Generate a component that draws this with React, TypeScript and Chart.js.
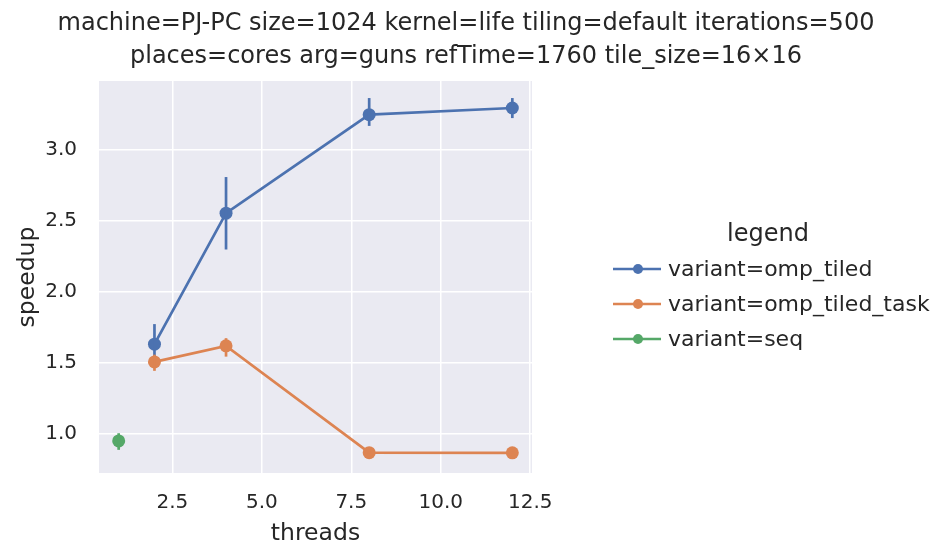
import React, { useEffect, useRef } from "react";
import { Chart, registerables } from "chart.js";

Chart.register(...registerables);

const titleLines = [
  "machine=PJ-PC size=1024 kernel=life tiling=default iterations=500",
  "places=cores arg=guns refTime=1760 tile_size=16×16",
];
const xLabel = "threads";
const yLabel = "speedup";
const legendTitle = "legend";

const seriesNames = ["variant=omp_tiled", "variant=omp_tiled_task", "variant=seq"];
const seriesColors = ["#4c72b0", "#dd8452", "#55a868"];

const tiledThreads = [2, 4, 8, 12];
const tiledSpeedup = [1.634, 2.556, 3.249, 3.296];
const tiledLow = [1.55, 2.3, 3.17, 3.225];
const tiledHigh = [1.775, 2.81, 3.366, 3.366];

const taskThreads = [2, 4, 8, 12];
const taskSpeedup = [1.509, 1.622, 0.87, 0.869];
const taskLow = [1.446, 1.546, 0.862, 0.862];
const taskHigh = [1.56, 1.676, 0.878, 0.876];

const seqThreads = [1];
const seqSpeedup = [0.953];
const seqLow = [0.89];
const seqHigh = [1.007];

const xTicks = [2.5, 5.0, 7.5, 10.0, 12.5];
const yTicks = [1.0, 1.5, 2.0, 2.5, 3.0];

const FONT = "'DejaVu Sans', sans-serif";
const TEXT = "#262626";

export default function App() {
  const ref = useRef<HTMLCanvasElement>(null);

  useEffect(() => {
    document.body.style.margin = "0";
    const canvas = ref.current!;
    const mk = (xs: number[], ys: number[]) => xs.map((x, i) => ({ x, y: ys[i] }));
    const errs = [
      { xs: tiledThreads, lo: tiledLow, hi: tiledHigh },
      { xs: taskThreads, lo: taskLow, hi: taskHigh },
      { xs: seqThreads, lo: seqLow, hi: seqHigh },
    ];

    const bgPlugin = {
      id: "bg",
      beforeDraw(chart: any) {
        const { ctx, chartArea: a } = chart;
        ctx.save();
        ctx.fillStyle = "#ffffff";
        ctx.fillRect(0, 0, chart.width, chart.height);
        ctx.fillStyle = "#eaeaf2";
        ctx.fillRect(a.left, a.top, a.right - a.left, a.bottom - a.top);
        ctx.restore();
      },
    };

    const errPlugin = {
      id: "err",
      afterDatasetsDraw(chart: any) {
        const { ctx, scales } = chart;
        ctx.save();
        errs.forEach((e, si) => {
          ctx.strokeStyle = seriesColors[si];
          ctx.lineWidth = 2.7;
          e.xs.forEach((x, i) => {
            const px = scales.x.getPixelForValue(x);
            ctx.beginPath();
            ctx.moveTo(px, scales.y.getPixelForValue(e.lo[i]));
            ctx.lineTo(px, scales.y.getPixelForValue(e.hi[i]));
            ctx.stroke();
          });
        });
        ctx.restore();
      },
    };

    const textPlugin = {
      id: "texts",
      afterDraw(chart: any) {
        const { ctx, chartArea: a } = chart;
        ctx.save();
        ctx.fillStyle = TEXT;
        ctx.textAlign = "center";
        ctx.textBaseline = "alphabetic";
        ctx.font = `24px ${FONT}`;
        ctx.fillText(titleLines[0], 466, 30);
        ctx.fillText(titleLines[1], 466, 63);
        ctx.font = `23.5px ${FONT}`;
        ctx.fillText(xLabel, (a.left + a.right) / 2, 540);
        ctx.save();
        ctx.translate(34, (a.top + a.bottom) / 2);
        ctx.rotate(-Math.PI / 2);
        ctx.fillText(yLabel, 0, 0);
        ctx.restore();
        // legend
        ctx.textBaseline = "middle";
        ctx.font = `24px ${FONT}`;
        ctx.fillText(legendTitle, 768, 235);
        ctx.font = `22px ${FONT}`;
        ctx.textAlign = "left";
        const ys = [269, 304, 339];
        seriesNames.forEach((n, i) => {
          ctx.strokeStyle = seriesColors[i];
          ctx.lineWidth = 2.5;
          ctx.beginPath();
          ctx.moveTo(613, ys[i]);
          ctx.lineTo(661, ys[i]);
          ctx.stroke();
          ctx.fillStyle = seriesColors[i];
          ctx.beginPath();
          ctx.arc(638, ys[i], 5, 0, Math.PI * 2);
          ctx.fill();
          ctx.fillStyle = TEXT;
          ctx.fillText(n, 668, ys[i] + 1);
        });
        ctx.restore();
      },
    };

    const ds = (i: number, xs: number[], ys: number[]) => ({
      label: seriesNames[i],
      data: mk(xs, ys),
      borderColor: seriesColors[i],
      backgroundColor: seriesColors[i],
      borderWidth: 2.7,
      pointRadius: 6.5,
      pointBorderWidth: 0,
      pointHoverRadius: 6.5,
      showLine: true,
      tension: 0,
    });

    const chart = new Chart(canvas, {
      type: "scatter",
      data: {
        datasets: [
          ds(0, tiledThreads, tiledSpeedup),
          ds(1, taskThreads, taskSpeedup),
          ds(2, seqThreads, seqSpeedup),
        ],
      },
      options: {
        animation: false,
        responsive: false,
        events: [],
        layout: { padding: { left: 0, top: 81, right: 401, bottom: 0 } },
        plugins: { legend: { display: false }, tooltip: { enabled: false }, title: { display: false } },
        scales: {
          x: {
            type: "linear",
            min: 0.45,
            max: 12.55,
            afterFit: (s: any) => { s.height = 75; },
            afterBuildTicks: (s: any) => { s.ticks = xTicks.map((v) => ({ value: v })); },
            grid: { color: "#ffffff", lineWidth: 1.5, drawTicks: false },
            border: { display: false },
            ticks: {
              color: TEXT,
              font: { family: FONT, size: 20 },
              padding: 18,
              maxRotation: 0,
              callback: (v: any) => Number(v).toFixed(1),
            },
          },
          y: {
            type: "linear",
            min: 0.727,
            max: 3.486,
            afterFit: (s: any) => { s.width = 99; },
            afterBuildTicks: (s: any) => { s.ticks = yTicks.map((v) => ({ value: v })); },
            grid: { color: "#ffffff", lineWidth: 1.5, drawTicks: false },
            border: { display: false },
            ticks: {
              color: TEXT,
              font: { family: FONT, size: 20 },
              padding: 22,
              callback: (v: any) => Number(v).toFixed(1),
            },
          },
        },
      },
      plugins: [bgPlugin, errPlugin, textPlugin],
    } as any);
    return () => chart.destroy();
  }, []);

  return <canvas ref={ref} width={933} height={548} style={{ display: "block" }} />;
}
